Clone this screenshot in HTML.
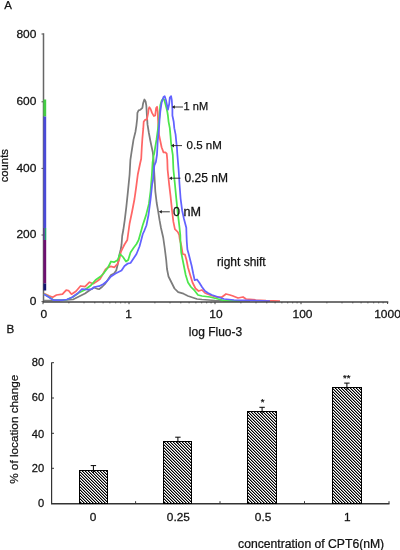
<!DOCTYPE html>
<html><head><meta charset="utf-8"><style>
html,body{margin:0;padding:0;background:#fff;width:400px;height:550px;overflow:hidden}
svg{display:block;will-change:transform}
text{font-family:"Liberation Sans", sans-serif;fill:#111;stroke:#111;stroke-width:0.25px}
</style></head><body>
<svg width="400" height="550" viewBox="0 0 400 550">
<line x1="43.5" y1="33.3" x2="43.5" y2="302" stroke="#666" stroke-width="1.5"/>
<line x1="41.5" y1="34" x2="43.5" y2="34" stroke="#555" stroke-width="1"/>
<line x1="41.5" y1="101.8" x2="43.5" y2="101.8" stroke="#555" stroke-width="1"/>
<line x1="41.5" y1="168.4" x2="43.5" y2="168.4" stroke="#555" stroke-width="1"/>
<line x1="41.5" y1="235" x2="43.5" y2="235" stroke="#555" stroke-width="1"/>
<line x1="41.5" y1="301.6" x2="43.5" y2="301.6" stroke="#555" stroke-width="1"/>
<line x1="44.8" y1="99.5" x2="44.8" y2="116.5" stroke="#44cc44" stroke-width="2.8"/>
<line x1="44.8" y1="116.5" x2="44.8" y2="228" stroke="#4a4ad8" stroke-width="2.8"/>
<line x1="44.8" y1="240" x2="44.8" y2="283.5" stroke="#6e1070" stroke-width="2.8"/>
<line x1="44.8" y1="283.5" x2="44.8" y2="290.5" stroke="#141470" stroke-width="2.8"/>
<line x1="44.1" y1="228" x2="44.1" y2="240" stroke="#4a2a90" stroke-width="1.4"/>
<line x1="45.6" y1="228" x2="45.6" y2="240" stroke="#20a070" stroke-width="1.4"/>
<polyline points="44.0,300.5 50.0,300.5 60.0,300.5 73.0,299.5 80.0,296.0 85.0,293.5 90.0,290.0 94.0,287.5 97.7,289.0 99.0,289.2 102.0,287.0 105.0,284.0 108.0,279.5 111.0,275.0 114.0,273.5 116.2,270.5 117.7,264.5 119.2,255.5 120.7,249.5 121.5,245.0 122.2,236.0 123.3,230.0 124.7,220.3 126.3,207.2 128.0,190.8 129.6,174.5 130.4,159.8 131.5,152.3 132.5,146.0 133.5,139.6 135.4,132.0 136.4,125.6 137.2,118.5 137.4,112.9 138.6,110.4 140.5,109.7 142.4,107.8 143.1,103.4 144.4,99.5 145.6,101.5 146.3,105.3 146.9,115.4 147.5,124.4 148.8,132.5 150.4,141.0 151.7,147.3 152.8,152.4 153.5,158.8 153.8,165.2 154.5,176.8 155.3,191.3 156.7,203.0 158.2,211.7 159.6,220.4 161.0,228.0 163.2,237.5 164.7,248.0 166.2,260.0 167.0,269.0 168.5,276.5 171.5,282.5 174.5,288.5 178.2,292.2 183.5,293.7 188.0,296.0 192.5,297.5 197.0,299.0 202.0,299.5 215.0,300.5 250.0,301.0" fill="none" stroke="#7c7c7c" stroke-width="1.75" stroke-linejoin="round"/>
<polyline points="44.0,293.5 49.0,295.7 52.7,297.2 56.5,295.0 62.5,294.2 66.2,290.2 68.5,290.5 71.5,294.2 76.0,291.2 80.5,286.0 85.0,286.7 89.5,282.2 93.2,283.7 97.7,280.7 100.0,279.0 102.7,274.5 105.5,269.5 108.2,267.3 110.9,266.4 112.7,266.8 114.5,267.3 115.9,265.5 117.7,263.6 119.1,260.0 120.0,256.4 120.9,251.8 122.7,248.2 124.5,244.5 127.3,240.0 129.6,223.5 132.0,212.0 134.5,199.0 136.1,187.6 137.8,174.5 140.2,163.0 141.2,158.7 141.8,147.3 142.4,138.3 143.3,128.2 143.7,121.8 145.0,119.9 146.9,119.3 148.2,112.9 148.6,109.0 149.4,107.2 150.7,109.2 152.0,112.9 153.9,116.1 155.2,115.4 156.1,108.0 157.1,106.8 157.7,111.7 158.0,119.3 158.4,127.0 159.0,134.6 160.3,141.0 161.6,147.3 163.5,152.4 165.4,152.4 166.7,153.7 167.3,160.0 167.6,169.5 169.1,184.0 170.5,195.7 172.0,210.2 173.4,221.9 174.9,229.1 177.8,232.0 179.2,235.0 179.7,239.0 181.2,245.0 182.7,254.0 185.0,254.7 186.5,260.0 188.0,267.5 190.2,275.0 192.5,282.5 195.5,288.5 198.5,291.0 202.0,290.0 205.0,293.0 210.0,295.0 216.0,297.0 222.0,297.0 226.0,294.0 230.0,295.0 233.0,296.0 238.0,298.0 243.0,297.0 246.0,299.0 256.0,300.0 266.0,300.6 280.0,301.0" fill="none" stroke="#ff6666" stroke-width="1.75" stroke-linejoin="round"/>
<polyline points="44.0,294.0 49.0,297.0 53.5,300.0 62.5,300.2 67.0,299.5 72.0,297.5 79.0,292.7 85.0,289.7 91.0,285.2 95.5,280.0 100.5,276.5 103.5,273.5 108.0,267.5 111.0,261.5 114.0,262.2 117.7,260.0 120.0,254.0 123.0,257.0 126.0,261.5 128.2,260.0 130.5,252.5 133.5,248.0 136.5,244.0 138.6,240.0 140.5,233.3 142.7,225.2 146.0,215.4 148.9,203.9 150.6,190.8 151.9,174.5 152.6,162.3 153.5,156.0 154.2,153.7 155.2,147.3 156.5,139.7 157.7,130.8 159.0,120.6 159.6,113.0 160.3,105.3 161.6,100.8 162.8,98.9 164.1,99.6 165.4,104.0 166.7,109.1 167.3,111.7 167.9,115.5 168.6,121.8 169.8,128.2 170.5,135.9 171.1,143.5 172.0,149.9 172.8,155.0 173.4,169.5 174.9,184.0 176.3,198.6 177.8,213.1 179.2,224.8 180.3,235.0 180.5,242.0 181.2,252.5 182.7,260.0 184.2,267.5 185.7,275.0 188.0,282.5 191.0,287.0 194.7,290.7 198.0,295.0 202.0,296.0 210.0,297.0 218.0,299.0 224.0,300.6 240.0,301.0" fill="none" stroke="#4ce64c" stroke-width="1.75" stroke-linejoin="round"/>
<polyline points="44.0,294.2 49.0,297.2 53.5,300.2 62.5,300.2 67.0,299.5 72.2,297.2 77.5,293.5 82.0,289.0 88.0,289.7 91.5,289.2 94.5,287.0 99.0,286.2 103.5,284.0 107.2,281.0 111.0,276.5 115.5,273.5 118.5,272.0 121.5,270.5 124.5,266.0 127.5,263.7 130.5,263.0 133.5,258.5 136.5,254.0 139.5,246.5 141.5,239.0 142.8,234.0 144.5,230.3 146.5,225.2 148.5,215.0 150.6,199.0 152.2,184.0 153.0,180.0 153.7,170.5 154.4,165.4 155.9,161.8 157.0,154.5 157.4,147.3 157.7,141.0 158.4,134.6 159.0,128.2 159.6,119.3 160.3,111.7 161.6,102.7 163.5,97.0 164.7,96.2 166.0,100.2 167.3,106.6 167.9,109.7 169.2,104.0 169.8,97.6 171.1,96.2 171.8,100.2 172.4,109.1 172.4,115.5 173.7,121.8 174.3,128.2 175.6,134.6 176.2,141.0 176.9,147.3 177.3,153.7 177.8,160.0 178.6,169.5 179.5,184.0 180.6,198.6 182.1,210.2 184.0,219.0 186.3,227.7 186.5,235.0 186.8,242.0 187.4,249.5 188.7,254.0 190.2,260.0 191.7,266.0 193.2,273.5 194.7,280.2 197.0,279.5 199.2,282.5 202.0,287.0 205.0,291.0 208.0,293.0 212.0,295.0 218.0,297.0 224.0,299.0 234.0,300.0 270.0,301.0" fill="none" stroke="#6262ff" stroke-width="1.75" stroke-linejoin="round"/>
<line x1="43" y1="302" x2="388.3" y2="302" stroke="#444" stroke-width="1.5"/>
<line x1="43.0" y1="302" x2="43.0" y2="304.2" stroke="#444" stroke-width="1"/>
<line x1="68.9" y1="302" x2="68.9" y2="303.4" stroke="#444" stroke-width="0.8"/>
<line x1="84.0" y1="302" x2="84.0" y2="303.4" stroke="#444" stroke-width="0.8"/>
<line x1="94.8" y1="302" x2="94.8" y2="303.4" stroke="#444" stroke-width="0.8"/>
<line x1="103.1" y1="302" x2="103.1" y2="303.4" stroke="#444" stroke-width="0.8"/>
<line x1="109.9" y1="302" x2="109.9" y2="303.4" stroke="#444" stroke-width="0.8"/>
<line x1="115.7" y1="302" x2="115.7" y2="303.4" stroke="#444" stroke-width="0.8"/>
<line x1="120.7" y1="302" x2="120.7" y2="303.4" stroke="#444" stroke-width="0.8"/>
<line x1="125.1" y1="302" x2="125.1" y2="303.4" stroke="#444" stroke-width="0.8"/>
<line x1="129.0" y1="302" x2="129.0" y2="304.2" stroke="#444" stroke-width="1"/>
<line x1="154.9" y1="302" x2="154.9" y2="303.4" stroke="#444" stroke-width="0.8"/>
<line x1="170.0" y1="302" x2="170.0" y2="303.4" stroke="#444" stroke-width="0.8"/>
<line x1="180.8" y1="302" x2="180.8" y2="303.4" stroke="#444" stroke-width="0.8"/>
<line x1="189.1" y1="302" x2="189.1" y2="303.4" stroke="#444" stroke-width="0.8"/>
<line x1="195.9" y1="302" x2="195.9" y2="303.4" stroke="#444" stroke-width="0.8"/>
<line x1="201.7" y1="302" x2="201.7" y2="303.4" stroke="#444" stroke-width="0.8"/>
<line x1="206.7" y1="302" x2="206.7" y2="303.4" stroke="#444" stroke-width="0.8"/>
<line x1="211.1" y1="302" x2="211.1" y2="303.4" stroke="#444" stroke-width="0.8"/>
<line x1="215.0" y1="302" x2="215.0" y2="304.2" stroke="#444" stroke-width="1"/>
<line x1="240.9" y1="302" x2="240.9" y2="303.4" stroke="#444" stroke-width="0.8"/>
<line x1="256.0" y1="302" x2="256.0" y2="303.4" stroke="#444" stroke-width="0.8"/>
<line x1="266.8" y1="302" x2="266.8" y2="303.4" stroke="#444" stroke-width="0.8"/>
<line x1="275.1" y1="302" x2="275.1" y2="303.4" stroke="#444" stroke-width="0.8"/>
<line x1="281.9" y1="302" x2="281.9" y2="303.4" stroke="#444" stroke-width="0.8"/>
<line x1="287.7" y1="302" x2="287.7" y2="303.4" stroke="#444" stroke-width="0.8"/>
<line x1="292.7" y1="302" x2="292.7" y2="303.4" stroke="#444" stroke-width="0.8"/>
<line x1="297.1" y1="302" x2="297.1" y2="303.4" stroke="#444" stroke-width="0.8"/>
<line x1="301.0" y1="302" x2="301.0" y2="304.2" stroke="#444" stroke-width="1"/>
<line x1="326.9" y1="302" x2="326.9" y2="303.4" stroke="#444" stroke-width="0.8"/>
<line x1="342.0" y1="302" x2="342.0" y2="303.4" stroke="#444" stroke-width="0.8"/>
<line x1="352.8" y1="302" x2="352.8" y2="303.4" stroke="#444" stroke-width="0.8"/>
<line x1="361.1" y1="302" x2="361.1" y2="303.4" stroke="#444" stroke-width="0.8"/>
<line x1="367.9" y1="302" x2="367.9" y2="303.4" stroke="#444" stroke-width="0.8"/>
<line x1="373.7" y1="302" x2="373.7" y2="303.4" stroke="#444" stroke-width="0.8"/>
<line x1="378.7" y1="302" x2="378.7" y2="303.4" stroke="#444" stroke-width="0.8"/>
<line x1="383.1" y1="302" x2="383.1" y2="303.4" stroke="#444" stroke-width="0.8"/>
<line x1="387.6" y1="302" x2="387.6" y2="304" stroke="#444" stroke-width="1"/>
<text transform="translate(36.4,38.0) scale(1.06,1)" font-size="11.3" text-anchor="end">800</text>
<text transform="translate(36.4,104.7) scale(1.06,1)" font-size="11.3" text-anchor="end">600</text>
<text transform="translate(36.4,171.5) scale(1.06,1)" font-size="11.3" text-anchor="end">400</text>
<text transform="translate(36.4,238.3) scale(1.06,1)" font-size="11.3" text-anchor="end">200</text>
<text transform="translate(36.4,305.0) scale(1.06,1)" font-size="11.3" text-anchor="end">0</text>
<text transform="translate(43.75,317.7) scale(1.06,1)" font-size="11.3" text-anchor="middle">0</text>
<text transform="translate(128.7,317.7) scale(1.06,1)" font-size="11.3" text-anchor="middle">1</text>
<text transform="translate(216,317.7) scale(1.06,1)" font-size="11.3" text-anchor="middle">10</text>
<text transform="translate(302.5,317.7) scale(1.06,1)" font-size="11.3" text-anchor="middle">100</text>
<text transform="translate(387.5,317.7) scale(1.06,1)" font-size="11.3" text-anchor="middle">1000</text>
<text x="4.2" y="9.3" font-size="11.5" text-anchor="start">A</text>
<text transform="translate(6.6,333.0) scale(1.06,1)" font-size="11" text-anchor="start">B</text>
<text transform="translate(8.2,165.7) rotate(-90)" font-size="11.3" text-anchor="middle">counts</text>
<line x1="173.8" y1="107" x2="183" y2="107" stroke="#222" stroke-width="0.9"/>
<path d="M171.8,107 l3,-1.8 l0,3.6 z" fill="#222"/>
<text x="183.6" y="110.2" font-size="11" text-anchor="start">1 nM</text>
<line x1="173" y1="145.6" x2="182" y2="145.6" stroke="#222" stroke-width="0.9"/>
<path d="M171,145.6 l3,-1.8 l0,3.6 z" fill="#222"/>
<text x="186.6" y="149.2" font-size="11.5" text-anchor="start">0.5 nM</text>
<line x1="171" y1="178.2" x2="180.5" y2="178.2" stroke="#222" stroke-width="0.9"/>
<path d="M169,178.2 l3,-1.8 l0,3.6 z" fill="#222"/>
<text x="184.6" y="181.8" font-size="12" text-anchor="start">0.25 nM</text>
<line x1="160.8" y1="211.8" x2="169.8" y2="211.8" stroke="#222" stroke-width="0.9"/>
<path d="M158.8,211.8 l3,-1.8 l0,3.6 z" fill="#222"/>
<text transform="translate(173,215.5) scale(1.05,1)" font-size="12" text-anchor="start">0 nM</text>
<text x="217" y="265.7" font-size="12" text-anchor="start">right shift</text>
<text x="188.8" y="336.2" font-size="12" text-anchor="start">log Fluo-3</text>
<line x1="51.6" y1="362.5" x2="51.6" y2="504" stroke="#333" stroke-width="1.2"/>
<line x1="51.6" y1="362.7" x2="54" y2="362.7" stroke="#333" stroke-width="1"/>
<line x1="51.6" y1="398" x2="54" y2="398" stroke="#333" stroke-width="1"/>
<line x1="51.6" y1="433.3" x2="54" y2="433.3" stroke="#333" stroke-width="1"/>
<line x1="51.6" y1="468.3" x2="54" y2="468.3" stroke="#333" stroke-width="1"/>
<text transform="translate(44.2,365.9) scale(1.05,1)" font-size="10.6" text-anchor="end">80</text>
<text transform="translate(44.2,401.2) scale(1.05,1)" font-size="10.6" text-anchor="end">60</text>
<text transform="translate(44.2,437.6) scale(1.05,1)" font-size="10.6" text-anchor="end">40</text>
<text transform="translate(44.2,472.2) scale(1.05,1)" font-size="10.6" text-anchor="end">20</text>
<text transform="translate(44.2,506.5) scale(1.05,1)" font-size="10.6" text-anchor="end">0</text>
<line x1="51" y1="503.8" x2="389.5" y2="503.8" stroke="#333" stroke-width="1.5"/>
<line x1="135.6" y1="503.6" x2="135.6" y2="501.2" stroke="#333" stroke-width="1"/>
<line x1="220" y1="503.6" x2="220" y2="501.2" stroke="#333" stroke-width="1"/>
<line x1="304.5" y1="503.6" x2="304.5" y2="501.2" stroke="#333" stroke-width="1"/>
<line x1="389" y1="503.6" x2="389" y2="501.2" stroke="#333" stroke-width="1"/>
<defs><pattern id="h" x="1" y="0" width="3" height="3" patternUnits="userSpaceOnUse"><rect width="3" height="3" fill="#fff"/><rect x="0" y="0" width="1" height="1" fill="#000"/><rect x="1" y="1" width="1" height="1" fill="#000"/><rect x="2" y="2" width="1" height="1" fill="#000"/><rect x="1" y="0" width="1" height="1" fill="#8c8c8c"/><rect x="2" y="1" width="1" height="1" fill="#8c8c8c"/><rect x="0" y="2" width="1" height="1" fill="#8c8c8c"/></pattern></defs>
<rect x="79.5" y="470.5" width="28" height="33" fill="url(#h)" stroke="#000" stroke-width="1" shape-rendering="crispEdges"/>
<line x1="93.4" y1="465.6" x2="93.4" y2="473" stroke="#000" stroke-width="1"/>
<line x1="90.7" y1="465.6" x2="96.10000000000001" y2="465.6" stroke="#000" stroke-width="1"/>
<text transform="translate(93.0,521.2) scale(1.06,1)" font-size="11.2" text-anchor="middle">0</text>
<rect x="163.5" y="441.5" width="28" height="62" fill="url(#h)" stroke="#000" stroke-width="1" shape-rendering="crispEdges"/>
<line x1="177.9" y1="437.2" x2="177.9" y2="444" stroke="#000" stroke-width="1"/>
<line x1="175.20000000000002" y1="437.2" x2="180.6" y2="437.2" stroke="#000" stroke-width="1"/>
<text transform="translate(178.4,521.2) scale(1.06,1)" font-size="11.2" text-anchor="middle">0.25</text>
<rect x="247.5" y="411.5" width="29" height="92" fill="url(#h)" stroke="#000" stroke-width="1" shape-rendering="crispEdges"/>
<line x1="262.1" y1="407.3" x2="262.1" y2="414" stroke="#000" stroke-width="1"/>
<line x1="259.40000000000003" y1="407.3" x2="264.8" y2="407.3" stroke="#000" stroke-width="1"/>
<text transform="translate(263.1,521.2) scale(1.06,1)" font-size="11.2" text-anchor="middle">0.5</text>
<rect x="332.5" y="387.5" width="29" height="116" fill="url(#h)" stroke="#000" stroke-width="1" shape-rendering="crispEdges"/>
<line x1="346.9" y1="383.1" x2="346.9" y2="390" stroke="#000" stroke-width="1"/>
<line x1="344.2" y1="383.1" x2="349.59999999999997" y2="383.1" stroke="#000" stroke-width="1"/>
<text transform="translate(347.3,521.2) scale(1.06,1)" font-size="11.2" text-anchor="middle">1</text>
<text x="262.7" y="405.0" font-size="9.5" text-anchor="middle">*</text>
<text x="346.8" y="380.5" font-size="9.5" text-anchor="middle">**</text>
<text transform="translate(18.2,429.3) rotate(-90)" font-size="11.75" text-anchor="middle">% of location change</text>
<text transform="translate(238.1,547.7) scale(1.015,1)" font-size="12" text-anchor="start">concentration of CPT6(nM)</text>
</svg>
</body></html>
